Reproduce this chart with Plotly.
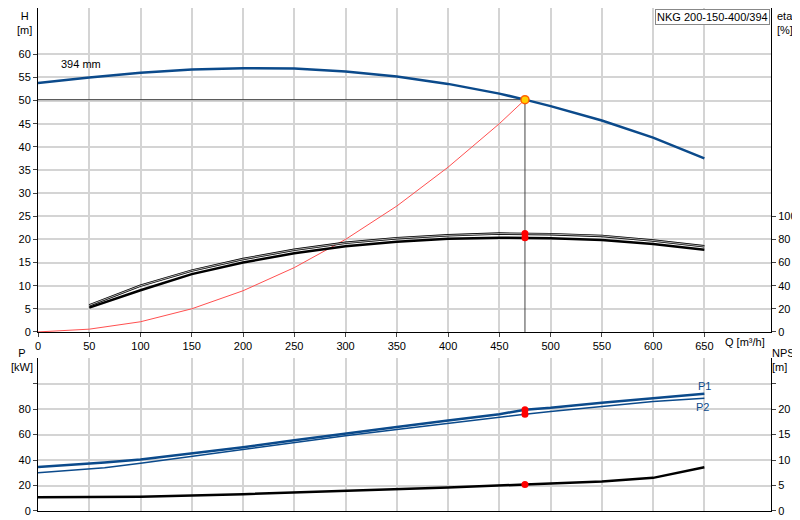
import plotly.graph_objects as go

# pump head curve (394 mm impeller)
q_h = [0, 50, 100, 150, 200, 250, 300, 350, 400, 450, 475, 500, 550, 600, 650]
h = [53.8, 55.0, 56.0, 56.7, 57.0, 56.9, 56.3, 55.2, 53.6, 51.5, 50.2, 48.8, 45.7, 42.0, 37.5]

# efficiency curves [%]
q_eta = [50, 100, 150, 200, 250, 300, 350, 400, 450, 475, 500, 550, 600, 650]
eta_a = [23, 40, 53, 63, 71, 77, 81, 83.5, 85, 85, 84.5, 83, 79, 74]
eta_b = [21, 36, 50, 60, 68, 74, 78, 80.5, 81.5, 81.5, 81, 79.5, 76, 71]

# system curve
q_sys = [0, 50, 100, 150, 200, 250, 300, 350, 400, 450, 475]
h_sys = [0, 0.6, 2.2, 5.0, 8.9, 13.9, 20.0, 27.2, 35.6, 45.0, 50.2]

# power curves [kW]
q_p = [0, 65, 100, 150, 200, 250, 300, 350, 400, 450, 475, 500, 550, 600, 650]
p1 = [34.5, 38, 40.5, 45, 50, 55.5, 61, 66, 71, 76, 79.5, 81, 85, 88.5, 92]
p2 = [30, 34, 37.5, 43, 48.5, 54, 59, 64, 69, 73.5, 76, 78, 82, 86, 88.5]

# NPSH [m]
q_npsh = [0, 65, 100, 200, 300, 400, 475, 550, 600, 650]
npsh = [2.7, 2.7, 2.8, 3.3, 3.9, 4.6, 5.2, 5.8, 6.5, 8.6]

q_op, h_op = 475, 50.2
eta_op = [85, 81.5]
p_op = [79.5, 76]
npsh_op = 5.2

BLUE = "#0b4a8b"
fig = go.Figure()

fig.add_trace(go.Scatter(x=[0, q_op], y=[h_op, h_op], mode="lines", line=dict(color="#444", width=1), xaxis="x", yaxis="y"))
fig.add_trace(go.Scatter(x=[q_op, q_op], y=[0, h_op], mode="lines", line=dict(color="#444", width=1), xaxis="x", yaxis="y"))
fig.add_trace(go.Scatter(x=q_sys, y=h_sys, mode="lines", line=dict(color="#ff5050", width=1), xaxis="x", yaxis="y"))
fig.add_trace(go.Scatter(x=q_h, y=h, mode="lines", line=dict(color=BLUE, width=2.5), xaxis="x", yaxis="y"))
for e in (eta_a, eta_b):
    fig.add_trace(go.Scatter(x=q_eta, y=e, mode="lines", line=dict(color="black", width=2.5), xaxis="x", yaxis="y3"))
fig.add_trace(go.Scatter(x=q_eta, y=eta_a, mode="lines", line=dict(color="#ddd", width=0.8), xaxis="x", yaxis="y3"))
fig.add_trace(go.Scatter(x=[q_op, q_op], y=eta_op, mode="markers", marker=dict(color="red", size=7), xaxis="x", yaxis="y3"))
fig.add_trace(go.Scatter(x=[q_op], y=[h_op], mode="markers",
                         marker=dict(color="#ffd000", size=8, line=dict(color="#ff6000", width=1.5)), xaxis="x", yaxis="y"))

fig.add_trace(go.Scatter(x=q_p, y=p1, mode="lines", line=dict(color=BLUE, width=2.5), xaxis="x2", yaxis="y2"))
fig.add_trace(go.Scatter(x=q_p, y=p2, mode="lines", line=dict(color=BLUE, width=1.5), xaxis="x2", yaxis="y2"))
fig.add_trace(go.Scatter(x=q_npsh, y=npsh, mode="lines", line=dict(color="black", width=2.5), xaxis="x2", yaxis="y4"))
fig.add_trace(go.Scatter(x=[q_op, q_op], y=p_op, mode="markers", marker=dict(color="red", size=7), xaxis="x2", yaxis="y2"))
fig.add_trace(go.Scatter(x=[q_op], y=[npsh_op], mode="markers", marker=dict(color="red", size=7), xaxis="x2", yaxis="y4"))

ax = dict(showgrid=True, gridcolor="#d4d4d4", gridwidth=1.5, showline=True, linecolor="black", automargin=False,
          ticks="outside", ticklen=4, zeroline=False, tickfont=dict(size=11, color="black"))
xr = [0, 715]
xticks = list(range(0, 700, 50))
fig.update_layout(
    width=800, height=520, showlegend=False,
    plot_bgcolor="white", paper_bgcolor="white",
    margin=dict(l=30, r=37, t=0, b=17),
    font=dict(family="Liberation Sans, Arial", size=11, color="black"),
    xaxis=dict(ax, domain=[0, 1], range=xr, tickvals=xticks, anchor="y"),
    yaxis=dict(ax, domain=[0.356, 1], range=[0, 70], tickvals=list(range(0, 65, 5))),
    yaxis3=dict(ax, overlaying="y", side="right", range=[0, 280], tickvals=[0, 20, 40, 60, 80, 100], showgrid=False),
    xaxis2=dict(ax, domain=[0, 1], range=xr, tickvals=xticks, anchor="y2", showticklabels=False, ticks=""),
    yaxis2=dict(ax, domain=[0, 0.304], range=[0, 120], tickvals=[0, 20, 40, 60, 80, 100], ticktext=["0", "20", "40", "60", "80", ""]),
    yaxis4=dict(ax, overlaying="y2", side="right", range=[0, 30], tickvals=[0, 5, 10, 15, 20, 25], ticktext=["0", "5", "10", "15", "20", ""], showgrid=False),
)

ann = [
    dict(x=-0.032, y=1.0, text="H<br>[m]", align="center", xanchor="left", yanchor="top"),
    dict(x=1.005, y=1.0, text="eta<br>[%]", align="left", xanchor="left", yanchor="top"),
    dict(x=-0.04, y=0.33, text="P<br>[kW]", align="center", xanchor="left", yanchor="top"),
    dict(x=0.998, y=0.33, text="NPSH<br>[m]", align="left", xanchor="left", yanchor="top"),
    dict(x=0.995, y=0.352, text="Q [m³/h]", xanchor="right", yanchor="top"),
    dict(x=0.999, y=0.998, text="NKG 200-150-400/394", xanchor="right", yanchor="top",
         bordercolor="#888", borderwidth=1, bgcolor="white"),
]
for a in ann:
    a.update(xref="paper", yref="paper", showarrow=False)
    a.setdefault("font", dict(size=11))
ann += [
    dict(x=42, y=57.8, xref="x", yref="y", text="394 mm", showarrow=False, font=dict(size=11)),
    dict(x=650, y=98, xref="x2", yref="y2", text="P1", showarrow=False, font=dict(size=11, color=BLUE)),
    dict(x=648, y=82, xref="x2", yref="y2", text="P2", showarrow=False, font=dict(size=11, color=BLUE)),
]
fig.update_layout(annotations=ann)

fig.write_html("out.html")
